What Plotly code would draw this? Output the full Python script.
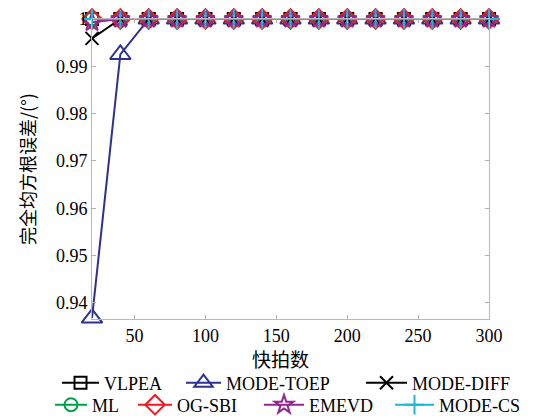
import plotly.graph_objects as go

snapshots = [20, 40, 60, 80, 100, 120, 140, 160, 180, 200, 220, 240, 260, 280, 300]
vlpea     = [1, 1, 1, 1, 1, 1, 1, 1, 1, 1, 1, 1, 1, 1, 1]
mode_toep = [0.9368, 0.9925, 1, 1, 1, 1, 1, 1, 1, 1, 1, 1, 1, 1, 1]
mode_diff = [0.9959, 1, 1, 1, 1, 1, 1, 1, 1, 1, 1, 1, 1, 1, 1]
ml        = [1, 1, 1, 1, 1, 1, 1, 1, 1, 1, 1, 1, 1, 1, 1]
og_sbi    = [1, 1, 1, 1, 1, 1, 1, 1, 1, 1, 1, 1, 1, 1, 1]
emevd     = [0.9993, 1, 1, 1, 1, 1, 1, 1, 1, 1, 1, 1, 1, 1, 1]
mode_cs   = [1, 1, 1, 1, 1, 1, 1, 1, 1, 1, 1, 1, 1, 1, 1]

series_names = ["VLPEA", "MODE-TOEP", "MODE-DIFF", "ML", "OG-SBI", "EMEVD", "MODE-CS"]
series_values = [vlpea, mode_toep, mode_diff, ml, og_sbi, emevd, mode_cs]

y_ticks = [0.94, 0.95, 0.96, 0.97, 0.98, 0.99, 1]
y_tick_labels = ["0.94", "0.95", "0.96", "0.97", "0.98", "0.99", "1"]
x_ticks = [50, 100, 150, 200, 250, 300]
x_title = "快拍数"
y_title = "完全均方根误差/(°)"

W, H = 545, 416
# styles: color, symbol, marker size
styles = [
    ("#000000", "square-open", 12),
    ("#2e3192", "triangle-up-open", 18),
    ("#000000", "x-thin-open", 13),
    ("#00a14b", "circle-open", 13),
    ("#ed1c24", "diamond-open", 15),
    ("#92278f", "star-open", 14),
    ("#1bb7d6", "cross-thin-open", 14),
]
# legend placement: symbol centre x (px), row y (px), symbol-to-text gap (px)
legend_pos = [
    (77, 383, 28), (201, 383, 26), (381, 383, 32),
    (70, 405, 23), (153, 405, 25), (279, 405, 31), (410, 405, 30),
]

FONT = "Liberation Serif"
FONT_CJK = "Noto Sans CJK SC"
ML_, MR_, MT_, MB_ = 92, 56, 19, 97

fig = go.Figure()
legend_layout = {}
for i, (name, vals) in enumerate(zip(series_names, series_values)):
    color, sym, size = styles[i]
    lx, ly, gap = legend_pos[i]
    key = "legend" if i == 0 else f"legend{i + 1}"
    fig.add_trace(go.Scatter(
        x=snapshots, y=vals, name=name, mode="lines+markers",
        line=dict(color=color, width=2),
        marker=dict(symbol=sym, size=size, color=color, line=dict(color=color, width=2)),
        cliponaxis=False, legend=key,
    ))
    legend_layout[key] = dict(
        orientation="h", xref="container", yref="container",
        x=(lx - 20) / W, xanchor="left", y=1 - ly / H, yanchor="middle",
        font=dict(size=18, family=FONT), bgcolor="rgba(0,0,0,0)", borderwidth=0,
        itemwidth=max(30, gap + 9),
    )

plot_w = W - ML_ - MR_
fig.add_annotation(
    text=x_title, xref="paper", yref="paper",
    x=(280 - ML_) / plot_w, y=0, yshift=-39, xanchor="center", yanchor="middle",
    showarrow=False, font=dict(size=19, family=FONT_CJK, color="#000000"),
)

fig.update_layout(
    width=W, height=H,
    margin=dict(l=ML_, r=MR_, t=MT_, b=MB_, autoexpand=False),
    plot_bgcolor="white", paper_bgcolor="white",
    font=dict(family=FONT, size=18, color="#000000"),
    xaxis=dict(
        range=[20, 300], tickvals=x_ticks, ticks="inside", ticklen=4, tickcolor="#b0b0b0",
        showline=True, linecolor="#b8b8b8", linewidth=1, mirror="allticks", showgrid=False,
        zeroline=False, tickfont=dict(size=18, family=FONT),
    ),
    yaxis=dict(
        range=[0.9366, 1.0], tickvals=y_ticks, ticktext=y_tick_labels, ticks="inside",
        ticklen=4, tickcolor="#b0b0b0",
        showline=True, linecolor="#b8b8b8", linewidth=1, mirror="allticks", showgrid=False,
        zeroline=False,
        title=dict(text=y_title, font=dict(size=18, family=FONT_CJK)),
        tickfont=dict(size=18, family=FONT),
    ),
    showlegend=True,
    **legend_layout,
)

fig.write_html("out.html", config={"displayModeBar": False},
               post_script="document.body.style.margin='0px';")
